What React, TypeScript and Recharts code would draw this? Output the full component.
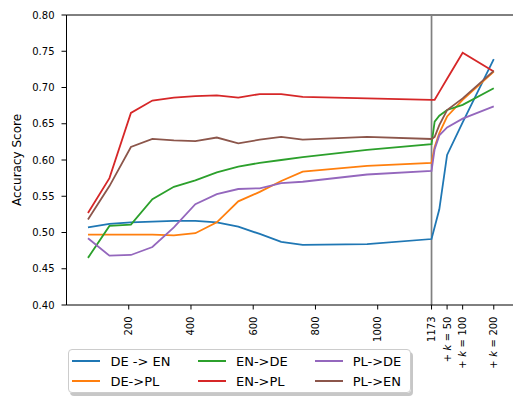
import { LineChart, Line, XAxis, YAxis, ReferenceLine, Legend } from "recharts";

// training set sizes, then extra points past the full set (1173 + k)
const sizes = [69, 138, 207, 276, 345, 414, 483, 552, 621, 690, 759, 966, 1173];
const extraK = [10, 25, 50, 100, 200];
const fullSize = 1173;

const deEn = [0.507, 0.512, 0.514, 0.515, 0.516, 0.516, 0.514, 0.508, 0.498, 0.487, 0.483, 0.484, 0.491, null, 0.532, 0.607, 0.652, 0.739];
const dePl = [0.497, 0.497, 0.497, 0.497, 0.496, 0.499, 0.514, 0.543, 0.556, 0.571, 0.584, 0.592, 0.596, 0.618, 0.637, 0.66, 0.683, 0.722];
const enDe = [0.465, 0.509, 0.511, 0.546, 0.563, 0.572, 0.583, 0.591, 0.596, 0.6, 0.604, 0.614, 0.622, 0.653, 0.661, 0.669, 0.676, 0.699];
const enPl = [0.527, 0.575, 0.665, 0.682, 0.686, 0.688, 0.689, 0.686, 0.691, 0.691, 0.687, 0.685, 0.683, 0.683, 0.694, 0.712, 0.748, 0.722];
const plDe = [0.492, 0.468, 0.469, 0.48, 0.507, 0.539, 0.553, 0.56, 0.561, 0.568, 0.57, 0.58, 0.585, 0.615, 0.634, 0.645, 0.657, 0.674];
const plEn = [0.518, 0.564, 0.618, 0.629, 0.627, 0.626, 0.631, 0.623, 0.628, 0.632, 0.628, 0.632, 0.629, 0.632, 0.648, 0.669, 0.685, 0.723];

const xTicks = [200, 400, 600, 800, 1000, 1173, 1223, 1273, 1373];
const xTickLabels = ["200", "400", "600", "800", "1000", "1173", "+k=50", "+k=100", "+k=200"];
const yTicks = [0.4, 0.45, 0.5, 0.55, 0.6, 0.65, 0.7, 0.75, 0.8];

const series = [
  { key: "deEn", name: "DE -> EN", values: deEn, color: "#1f77b4" },
  { key: "dePl", name: "DE->PL", values: dePl, color: "#ff7f0e" },
  { key: "enDe", name: "EN->DE", values: enDe, color: "#2ca02c" },
  { key: "enPl", name: "EN->PL", values: enPl, color: "#d62728" },
  { key: "plDe", name: "PL->DE", values: plDe, color: "#9467bd" },
  { key: "plEn", name: "PL->EN", values: plEn, color: "#8c564b" },
];

const xs = [...sizes, ...extraK.map((k) => fullSize + k)];
const data = xs.map((x, i) => {
  const row: Record<string, number | null> = { x };
  series.forEach((s) => (row[s.key] = s.values[i]));
  return row;
});

const FONT = "'DejaVu Sans', sans-serif";

// "+k=50" style labels are drawn math-like: italic k, spaced operators
function tickContent(label: string) {
  const m = label.match(/^\+k=(\d+)$/);
  if (!m) return label;
  return (
    <>
      <tspan>+</tspan>
      <tspan dx={3.5} fontStyle="italic">k</tspan>
      <tspan dx={3.5}>=</tspan>
      <tspan dx={3.5}>{m[1]}</tspan>
    </>
  );
}

function XTick({ x, y, payload }: any) {
  const idx = xTicks.indexOf(payload.value);
  const label = idx >= 0 ? xTickLabels[idx] : String(payload.value);
  return (
    <text
      x={x}
      y={y}
      transform={`rotate(-90, ${x}, ${y})`}
      textAnchor="end"
      dy="0.35em"
      fontSize={10}
      fontFamily={FONT}
      fill="#000"
    >
      {tickContent(label)}
    </text>
  );
}

function YTitle({ viewBox }: any) {
  const x = viewBox.x + 21;
  const y = viewBox.y + viewBox.height / 2;
  return (
    <text
      x={x}
      y={y}
      transform={`rotate(-90, ${x}, ${y})`}
      textAnchor="middle"
      fontSize={12}
      fontFamily={FONT}
      fill="#000"
    >
      Accuracy Score
    </text>
  );
}

function LegendBox({ payload }: any) {
  const items = payload || [];
  return (
    <div
      style={{
        boxSizing: "border-box",
        width: 343,
        height: 44,
        border: "1px solid #cccccc",
        borderRadius: 4,
        background: "rgba(255,255,255,0.85)",
        boxShadow: "2px 3px 0 rgba(0,0,0,0.22)",
        display: "grid",
        gridAutoFlow: "column",
        gridTemplateRows: "20px 20px",
        gridTemplateColumns: "125.6px 116.7px auto",
        paddingTop: 1,
        paddingLeft: 3.4,
        fontFamily: FONT,
        fontSize: 13,
        color: "#000",
      }}
    >
      {items.map((it: any) => (
        <div key={it.value} style={{ display: "flex", alignItems: "center" }}>
          <span style={{ width: 28, height: 2, background: it.color, marginRight: 10 }} />
          <span>{it.value}</span>
        </div>
      ))}
    </div>
  );
}

export default function App() {
  return (
    <div style={{ position: "fixed", left: 0, top: 0, width: 513, height: 412, overflow: "hidden", background: "#fff" }}>
      <LineChart width={534} height={412} data={data} margin={{ top: 15, right: 20, left: 0, bottom: 0 }}>
        <XAxis
          dataKey="x"
          type="number"
          domain={[0, 1438]}
          allowDataOverflow
          ticks={xTicks}
          interval={0}
          height={107}
          tickSize={4.5}
          tickMargin={7}
          tick={<XTick />}
          stroke="#000"
          tickLine={{ stroke: "#000" }}
        />
        <YAxis
          type="number"
          domain={[0.4, 0.8]}
          ticks={yTicks}
          interval={0}
          width={66.5}
          tickSize={5}
          tickMargin={7}
          tickFormatter={(v: number) => v.toFixed(2)}
          tick={{ fontSize: 10, fontFamily: FONT, fill: "#000" }}
          stroke="#000"
          tickLine={{ stroke: "#000" }}
          label={<YTitle />}
        />
        <ReferenceLine y={0.8} stroke="#000" strokeWidth={1} />
        <ReferenceLine x={fullSize} stroke="#808080" strokeWidth={1.7} />
        {series.map((s) => (
          <Line
            key={s.key}
            type="linear"
            dataKey={s.key}
            name={s.name}
            stroke={s.color}
            strokeWidth={1.8}
            dot={false}
            connectNulls
            isAnimationActive={false}
          />
        ))}
        <Legend
          layout="horizontal"
          verticalAlign="middle"
          align="center"
          content={<LegendBox />}
          wrapperStyle={{ position: "absolute", left: 68, top: 349, width: 343, height: 44 }}
        />
      </LineChart>
    </div>
  );
}
